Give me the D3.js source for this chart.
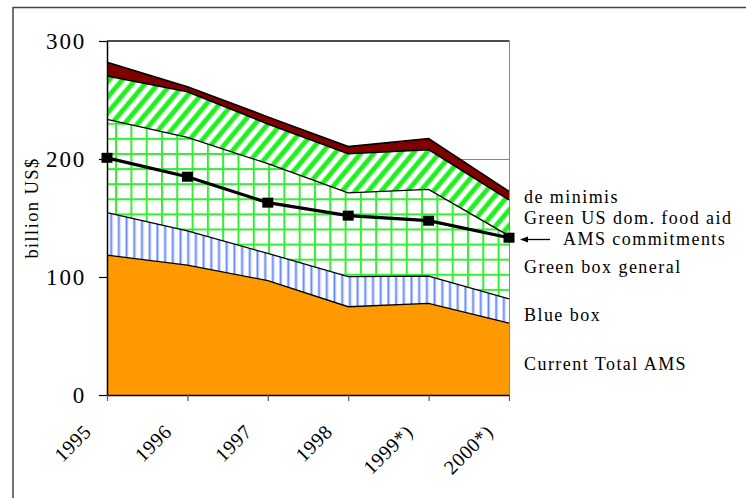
<!DOCTYPE html>
<meta charset="utf-8">
<style>
body { margin: 0; background: #fff; }
text { font-family: "Liberation Serif", "Times New Roman", serif; fill: #000; }
</style>
<body>
<div id="chart"></div>
<script src="https://d3js.org/d3.v7.min.js"></script>
<script>
// values in billion US$
var years = ['1995', '1996', '1997', '1998', '1999*)', '2000*)']
var currentAms = [118.6, 110, 97, 74.8, 77.7, 61]
var blueBox = [36, 29, 23, 25.5, 23, 20.4]
var greenGeneral = [79, 79.4, 76, 71, 73.5, 53.5]
var greenFoodAid = [36.7, 38.6, 33.7, 33.2, 33.7, 30.4]
var deMinimis = [11.6, 4.3, 6, 6, 9.5, 7.3]
var amsCommitments = [201, 185, 163, 152, 147.7, 133.3]
var yTicks = [0, 100, 200, 300]

var seriesKeys = ['ams', 'blue', 'general', 'food', 'minimis']
var rows = years.map(function (y, i) {
    return { year: y, ams: currentAms[i], blue: blueBox[i], general: greenGeneral[i],
        food: greenFoodAid[i], minimis: deMinimis[i] }
})

var width = 746, height = 498
var x = d3.scalePoint().domain(years).range([107, 509])
var y = d3.scaleLinear().domain([0, 300]).range([395, 41])

var svg = d3.select('#chart').append('svg')
    .attr('width', width)
    .attr('height', height)

// outer frame (runs off the picture on right and bottom)
svg.append('rect')
    .attr('x', 13).attr('y', 7.5)
    .attr('width', 800).attr('height', 560)
    .style('fill', 'none').style('stroke', '#444').style('stroke-width', 1.5)

var defs = svg.append('defs')

var pBlue = defs.append('pattern').attr('id', 'blue')
    .attr('patternUnits', 'userSpaceOnUse').attr('width', 7.7).attr('height', 10)
pBlue.append('rect').attr('width', 7.7).attr('height', 10).style('fill', '#fff')
pBlue.append('rect').attr('x', 3).attr('width', 1).attr('height', 10).style('fill', '#3f6cff')
pBlue.append('rect').attr('x', 2).attr('width', 1).attr('height', 10).style('fill', '#a9bcff')
pBlue.append('rect').attr('x', 4).attr('width', 1).attr('height', 10).style('fill', '#a9bcff')

var pGrid = defs.append('pattern').attr('id', 'grid')
    .attr('patternUnits', 'userSpaceOnUse').attr('width', 15.3).attr('height', 15.1)
    .attr('x', 8).attr('y', 2)
pGrid.append('rect').attr('width', 15.3).attr('height', 15.1).style('fill', '#fff')
pGrid.append('rect').attr('x', 0).attr('width', 2).attr('height', 15.1).style('fill', '#33ee33')
pGrid.append('rect').attr('y', 0).attr('width', 15.3).attr('height', 2).style('fill', '#33ee33')

var pDiag = defs.append('pattern').attr('id', 'diag')
    .attr('patternUnits', 'userSpaceOnUse').attr('width', 10).attr('height', 10)
    .attr('patternTransform', 'rotate(40)')
pDiag.append('rect').attr('width', 10).attr('height', 10).style('fill', '#fff')
pDiag.append('rect').attr('x', 3).attr('width', 4).attr('height', 10).style('fill', '#22ee22')
pDiag.append('rect').attr('x', 2).attr('width', 1).attr('height', 10).style('fill', '#99f799')
pDiag.append('rect').attr('x', 7).attr('width', 1).attr('height', 10).style('fill', '#99f799')

// gridlines and plot border
svg.append('g').selectAll('line')
    .data(yTicks.slice(1, 3))
    .enter().append('line')
    .attr('x1', 107).attr('x2', 509)
    .attr('y1', function (d) { return y(d) + 0.5 })
    .attr('y2', function (d) { return y(d) + 0.5 })
    .style('stroke', '#888')
svg.append('line').attr('x1', 107).attr('x2', 509.5).attr('y1', y(300)).attr('y2', y(300))
    .style('stroke', '#111').style('stroke-width', 1.5)
svg.append('line').attr('x1', 509.5).attr('x2', 509.5).attr('y1', y(300)).attr('y2', y(0))
    .style('stroke', '#888')

var stack = d3.stack().keys(seriesKeys)
var layers = stack(rows)
var fills = { ams: '#ff9900', blue: 'url(#blue)', general: 'url(#grid)', food: 'url(#diag)', minimis: '#800000' }

var area = d3.area()
    .x(function (d) { return x(d.data.year) })
    .y0(function (d) { return y(d[0]) })
    .y1(function (d) { return y(d[1]) })

svg.append('g').selectAll('path')
    .data(layers)
    .enter().append('path')
    .attr('d', area)
    .style('fill', function (d) { return fills[d.key] })
    .style('stroke', 'none')

var topLine = d3.line()
    .x(function (d) { return x(d.data.year) })
    .y(function (d) { return y(d[1]) })
svg.append('g').selectAll('path')
    .data(layers)
    .enter().append('path')
    .attr('d', topLine)
    .style('fill', 'none')
    .style('stroke', '#000')
    .style('stroke-width', function (d) { return d.key === 'food' || d.key === 'minimis' ? 1.6 : 1.3 })

// AMS commitments
var commitLine = d3.line()
    .x(function (d, i) { return x(years[i]) })
    .y(function (d) { return y(d) })
svg.append('path')
    .datum(amsCommitments)
    .attr('d', commitLine)
    .style('fill', 'none').style('stroke', '#000').style('stroke-width', 3.2)
svg.append('g').selectAll('rect')
    .data(amsCommitments)
    .enter().append('rect')
    .attr('x', function (d, i) { return x(years[i]) - 5.5 })
    .attr('y', function (d) { return y(d) - 5 })
    .attr('width', 11).attr('height', 10)
    .style('fill', '#000')

// axes
var yAxis = d3.axisLeft(y).tickValues(yTicks).tickSize(8).tickSizeOuter(0)
var gy = svg.append('g').attr('transform', 'translate(107,0)').call(yAxis)
gy.select('.domain').style('stroke-width', 1.5)
gy.selectAll('.tick line').style('stroke-width', 1.2)
gy.selectAll('.tick text')
    .attr('x', -21)
    .style('font-size', '23px')
    .style('letter-spacing', '1.8px')
    .style('font-family', '"Liberation Serif", serif')

var xAxis = d3.axisBottom(x).tickSize(6).tickSizeOuter(0)
var gx = svg.append('g').attr('transform', 'translate(0,395)').call(xAxis)
gx.select('.domain').style('stroke-width', 1.5)
gx.selectAll('.tick line').style('stroke', '#555').style('stroke-width', 1.2)
gx.selectAll('.tick text')
    .attr('x', 0).attr('y', 0).attr('dy', 0)
    .attr('transform', 'translate(-15,38) rotate(-45)')
    .style('text-anchor', 'end')
    .style('font-size', '20px')
    .style('letter-spacing', '0.6px')
    .style('font-family', '"Liberation Serif", serif')

svg.append('text')
    .attr('transform', 'translate(38,208) rotate(-90)')
    .style('text-anchor', 'middle')
    .style('font-size', '18.5px')
    .style('letter-spacing', '1.4px')
    .text('billion US$')

// series labels
var labels = [
    { t: 'de minimis', x: 524, y: 197 },
    { t: 'Green US dom. food aid', x: 524, y: 218 },
    { t: 'AMS commitments', x: 563, y: 239 },
    { t: 'Green box general', x: 524, y: 267 },
    { t: 'Blue box', x: 524, y: 315 },
    { t: 'Current Total AMS', x: 524, y: 364 }
]
svg.append('g').selectAll('text')
    .data(labels)
    .enter().append('text')
    .attr('x', function (d) { return d.x })
    .attr('y', function (d) { return d.y })
    .attr('dy', '0.35em')
    .style('font-size', '18px')
    .style('letter-spacing', '1.45px')
    .text(function (d) { return d.t })

// arrow pointing at the last commitments marker
svg.append('line')
    .attr('x1', 524).attr('x2', 550).attr('y1', 239.5).attr('y2', 239.5)
    .style('stroke', '#000').style('stroke-width', 1.3)
svg.append('path')
    .attr('d', 'M520,239.5 L528,236.5 L528,242.5 Z')
    .style('fill', '#000')
</script>
</body>
